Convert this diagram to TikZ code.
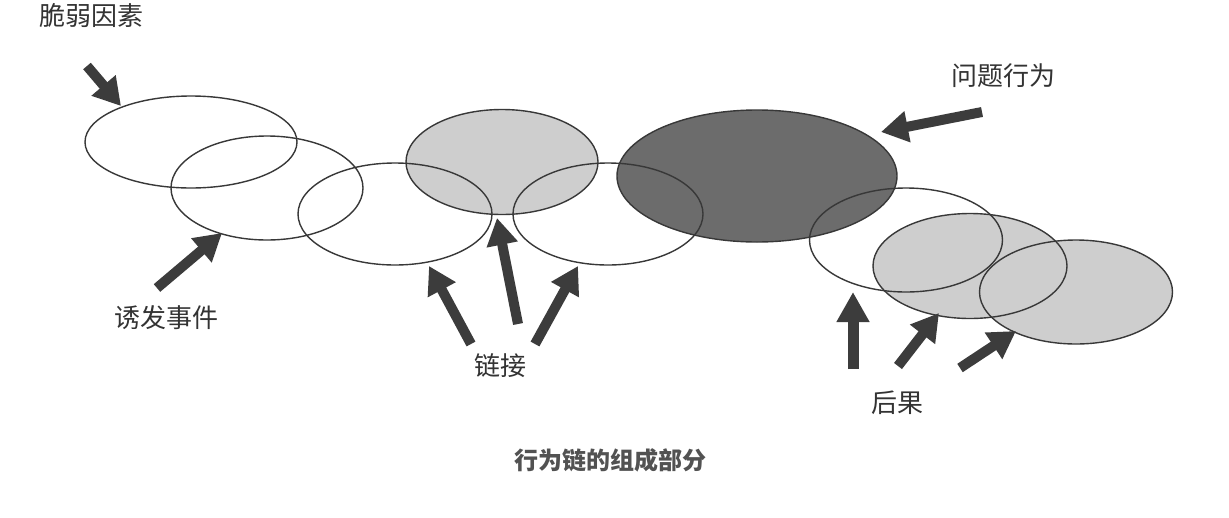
\documentclass[tikz,border=0pt]{standalone}
\usepackage{fontspec}
\newfontfamily\cjk{Noto Sans CJK SC}
\usetikzlibrary{shapes.geometric,arrows.meta}
\definecolor{linec}{HTML}{383838}
\definecolor{lightg}{HTML}{CECECE}
\definecolor{darkg}{HTML}{6C6C6C}
\definecolor{arrowc}{HTML}{3C3C3C}
\definecolor{textc}{HTML}{333333}
\tikzset{
  oval/.style={ellipse, inner sep=0pt, line width=1.4pt},
  ovalline/.style={oval, draw=linec},
  bigarrow/.style={draw=arrowc, line width=10pt, -{Triangle[length=27pt,width=30pt]}, shorten >=0pt},
  lbl/.style={font=\cjk\fontsize{26}{30}\selectfont, text=textc, inner sep=0pt},
  captiontext/.style={font=\cjk\bfseries\fontsize{24}{28}\selectfont, text=textc!85!white, inner sep=0pt}
}
\begin{document}
\begin{tikzpicture}[x=1pt,y=-1pt]
\useasboundingbox[fill=white] (0,0) rectangle (1229,517);
% fills
\node[oval, fill=lightg, minimum width=192pt, minimum height=105pt] (f4) at (502,162) {};
\node[oval, fill=darkg, minimum width=280pt, minimum height=132pt] (f6) at (757,176) {};
\node[oval, fill=lightg, minimum width=194pt, minimum height=105pt] (f8) at (970,266) {};
\node[oval, fill=lightg, minimum width=193pt, minimum height=104pt] (f9) at (1076,292) {};
% outlines
\node[ovalline, minimum width=212pt, minimum height=92pt] (e1) at (191,142) {};
\node[ovalline, minimum width=192pt, minimum height=104pt] (e2) at (267,188) {};
\node[ovalline, minimum width=194pt, minimum height=102pt] (e3) at (395,214) {};
\node[ovalline, minimum width=192pt, minimum height=105pt] (e4) at (502,162) {};
\node[ovalline, minimum width=190pt, minimum height=102pt] (e5) at (608,214) {};
\node[ovalline, minimum width=280pt, minimum height=132pt] (e6) at (757,176) {};
\node[ovalline, minimum width=193pt, minimum height=104pt] (e7) at (906,240) {};
\node[ovalline, minimum width=194pt, minimum height=105pt] (e8) at (970,266) {};
\node[ovalline, minimum width=193pt, minimum height=104pt] (e9) at (1076,292) {};
% labels
\node[lbl] (t1) at (91,16) {脆弱因素};
\node[lbl] (t2) at (166,318) {诱发事件};
\node[lbl] (t3) at (500,366) {链接};
\node[lbl] (t4) at (1003,76) {问题行为};
\node[lbl] (t5) at (897,403) {后果};
\node[captiontext] (t6) at (610,460) {行为链的组成部分};
% arrow coordinates
\coordinate (a1s) at (87,66);   \coordinate (a1e) at (121,106);
\coordinate (a2s) at (157,288); \coordinate (a2e) at (222,233);
\coordinate (a3s) at (471,344); \coordinate (a3e) at (429,266);
\coordinate (a4s) at (518,324); \coordinate (a4e) at (497,218);
\coordinate (a5s) at (535,344); \coordinate (a5e) at (578,266);
\coordinate (a6s) at (982,112); \coordinate (a6e) at (881,132);
\coordinate (a7s) at (853,369); \coordinate (a7e) at (853,292);
\coordinate (a8s) at (898,366); \coordinate (a8e) at (939,313);
\coordinate (a9s) at (960,368); \coordinate (a9e) at (1016,331);
\draw[bigarrow] (a1s) -- (a1e);
\draw[bigarrow] (a2s) -- (a2e);
\draw[bigarrow] (a3s) -- (a3e);
\draw[bigarrow] (a4s) -- (a4e);
\draw[bigarrow] (a5s) -- (a5e);
\draw[bigarrow] (a6s) -- (a6e);
\draw[bigarrow, line width=11pt, -{Triangle[length=30pt,width=31pt]}] (a7s) -- (a7e);
\draw[bigarrow] (a8s) -- (a8e);
\draw[bigarrow] (a9s) -- (a9e);
\end{tikzpicture}
\end{document}
